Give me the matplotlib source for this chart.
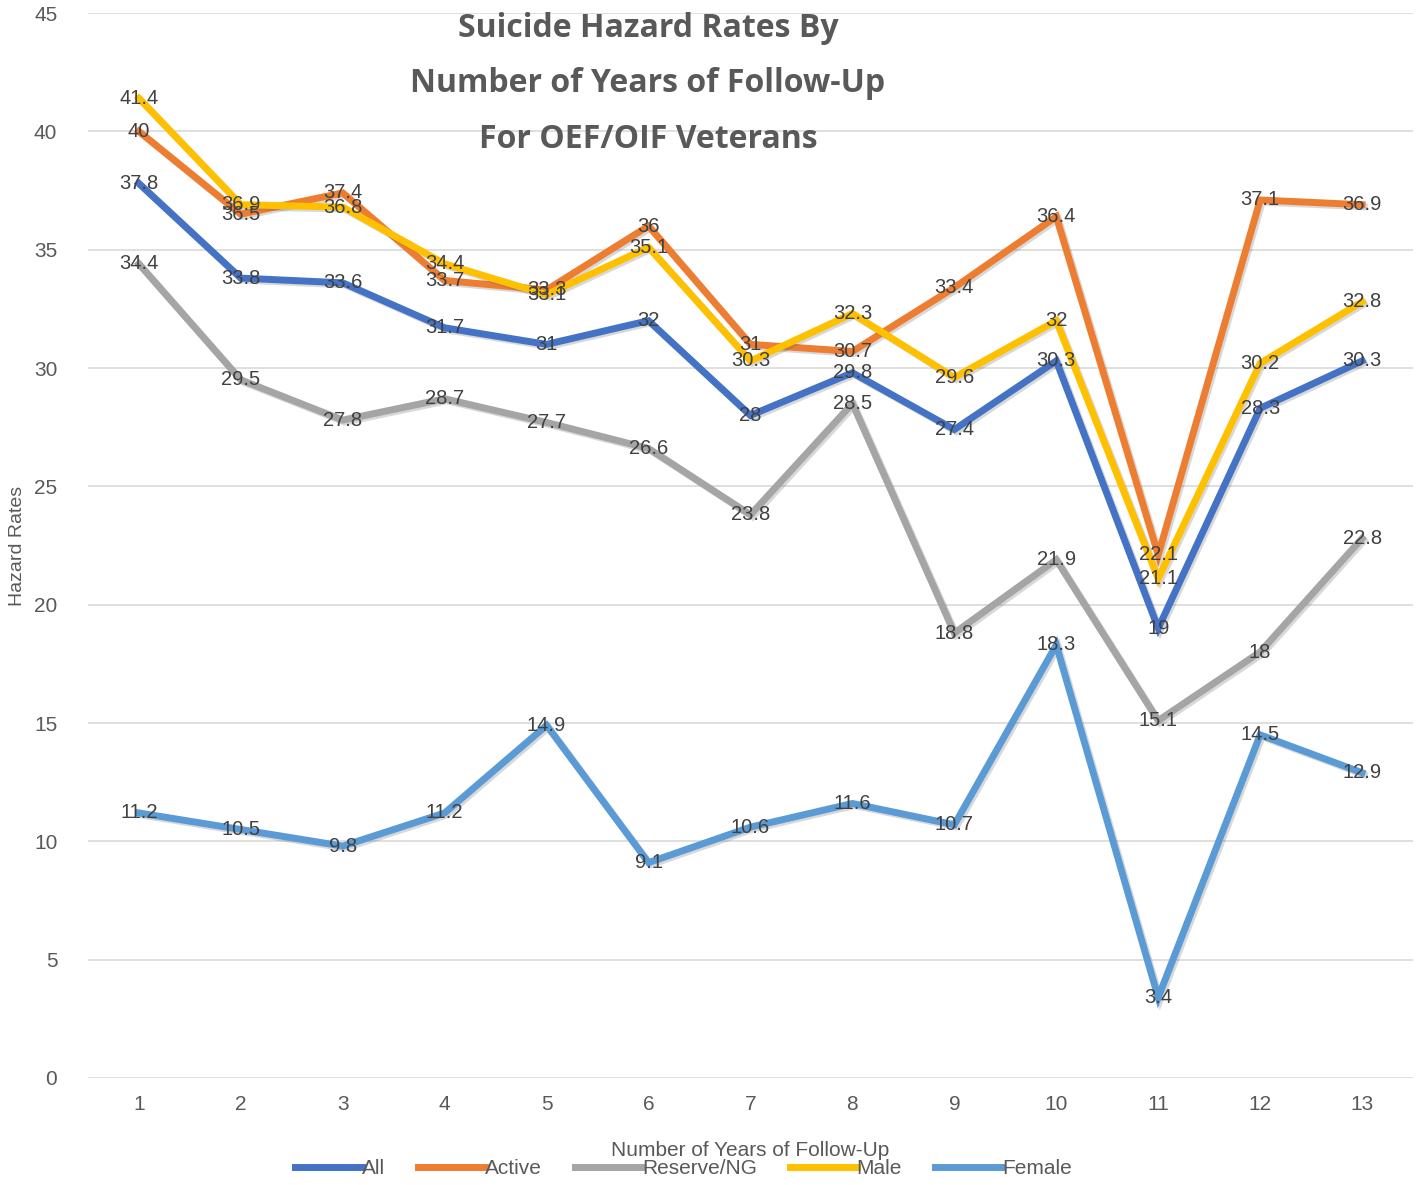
import numpy as np
import matplotlib.pyplot as plt
import matplotlib.patheffects as pe

years = np.arange(1, 14)
all_vals = [37.8, 33.8, 33.6, 31.7, 31, 32, 28, 29.8, 27.4, 30.3, 19, 28.3, 30.3]
active = [40, 36.5, 37.4, 33.7, 33.3, 36, 31, 30.7, 33.4, 36.4, 22.1, 37.1, 36.9]
reserve = [34.4, 29.5, 27.8, 28.7, 27.7, 26.6, 23.8, 28.5, 18.8, 21.9, 15.1, 18, 22.8]
male = [41.4, 36.9, 36.8, 34.4, 33.1, 35.1, 30.3, 32.3, 29.6, 32, 21.1, 30.2, 32.8]
female = [11.2, 10.5, 9.8, 11.2, 14.9, 9.1, 10.6, 11.6, 10.7, 18.3, 3.4, 14.5, 12.9]

names = ["All", "Active", "Reserve/NG", "Male", "Female"]
series = [all_vals, active, reserve, male, female]
colors = ["#4472C4", "#ED7D31", "#A5A5A5", "#FFC000", "#5B9BD5"]
# draw order: Female and Reserve behind, like the picture
order = [4, 2, 0, 1, 3]

plt.rcParams['font.family'] = ['Liberation Sans', 'DejaVu Sans']

fig = plt.figure(figsize=(14.18, 11.85), dpi=100)
ax = fig.add_axes([0.062, 0.0903, 0.9345, 0.8987])

shadow = [pe.SimpleLineShadow(offset=(1.5, -1.5), alpha=0.25, shadow_color="#666666"), pe.Normal()]
lines = {}
for i in order:
    ln, = ax.plot(years, series[i], color=colors[i], lw=5, label=names[i],
                  solid_joinstyle="miter", path_effects=shadow, zorder=2 + order.index(i))
    lines[i] = ln

for i in order:
    for x, v in zip(years, series[i]):
        ax.text(x, v, f"{v:g}", ha="center", va="center", fontsize=14.5,
                color="#404040", zorder=10)

ax.set_xlim(0.5, 13.5)
ax.set_ylim(0, 45)
ax.set_xticks(years)
ax.set_yticks(np.arange(0, 46, 5))
ax.grid(axis="y", color="#D9D9D9", lw=1.2)
ax.set_axisbelow(True)
for s in ax.spines.values():
    s.set_visible(False)
ax.tick_params(length=0, labelsize=15, colors="#595959", pad=12)
ax.tick_params(axis="y", pad=22)

ax.set_ylabel("Hazard Rates", fontsize=14, color="#595959", labelpad=6)
fig.text(0.529, 0.029, "Number of Years of Follow-Up", ha="center", va="center",
         fontsize=15, color="#595959")

fig.text(0.457, 0.990, "Suicide Hazard Rates By\nNumber of Years of Follow-Up\nFor OEF/OIF Veterans",
         ha="center", va="top", fontsize=23, fontweight="bold", color="#595959",
         family=["Open Sans", "DejaVu Sans"], linespacing=1.9)

handles = [lines[i] for i in range(5)]
leg = fig.legend(handles, names, loc="center", bbox_to_anchor=(0.482, 0.014), ncol=5,
                 frameon=False, fontsize=15, handlelength=3.2, handletextpad=0.0,
                 columnspacing=1.6, labelcolor="#595959")
for h in leg.legend_handles:
    h.set_path_effects([])
    h.set_linewidth(5)

fig.savefig("out.png", dpi=100)
